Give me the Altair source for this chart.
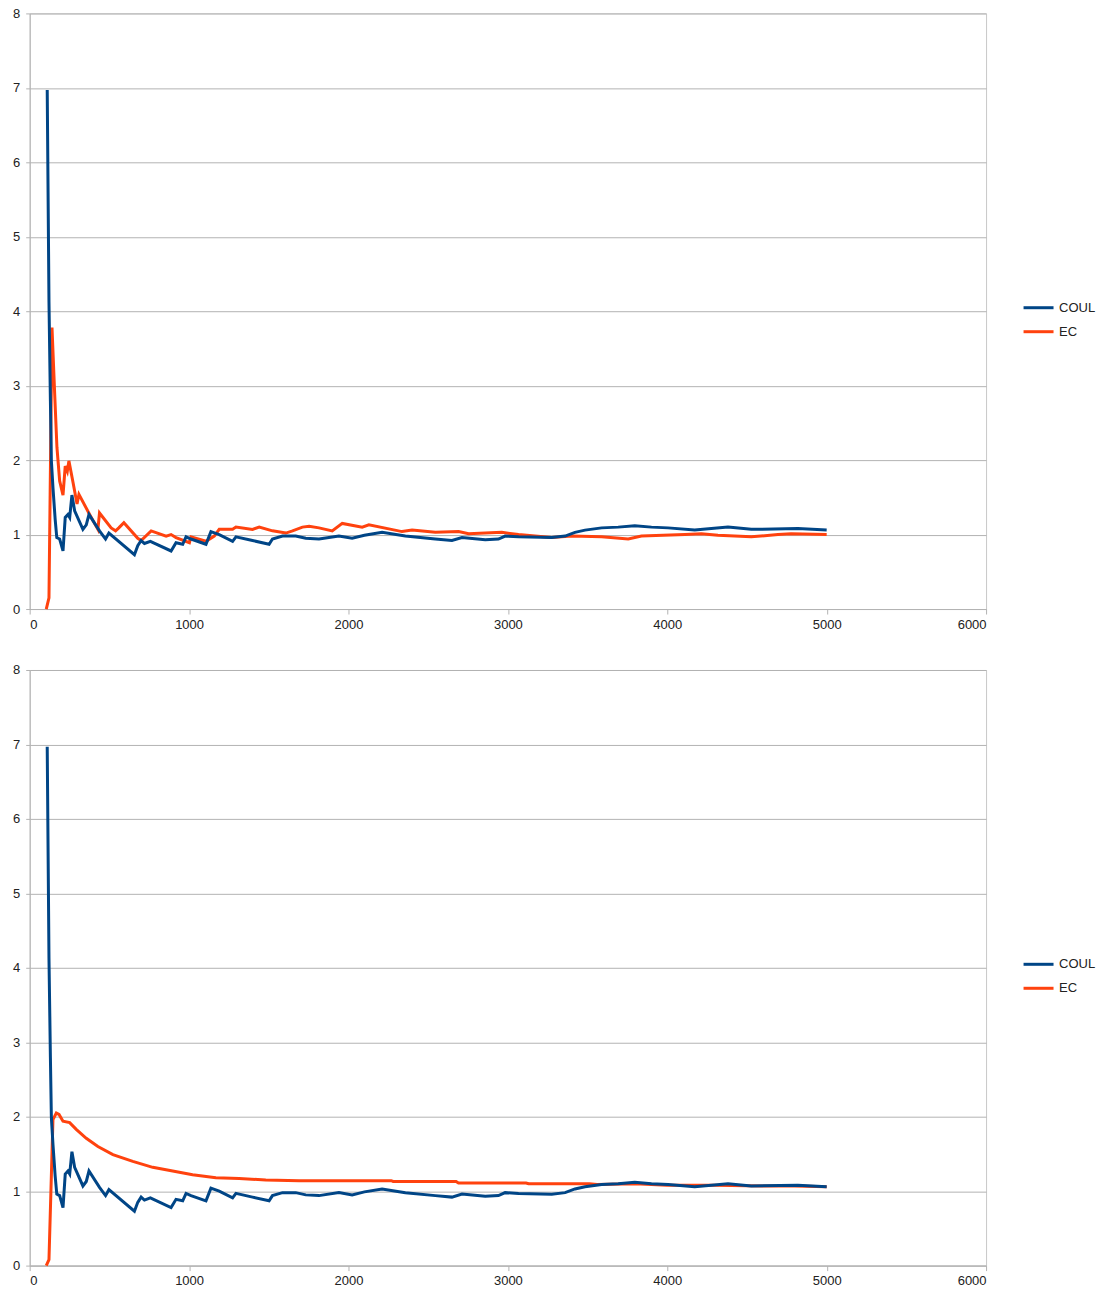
import altair as alt
import pandas as pd

# COUL series (same in both panels)
coul_x = [110, 121, 130, 136, 146, 160, 170, 188, 209, 223, 240, 251, 265, 282, 334, 355, 372,
          438, 476, 497, 657, 678, 699, 720, 757, 887, 918, 960, 981, 1012, 1106, 1137, 1189,
          1273, 1294, 1398, 1502, 1523, 1586, 1669, 1732, 1815, 1940, 2023, 2100, 2211, 2357,
          2545, 2649, 2712, 2858, 2941, 2983, 3067, 3275, 3359, 3421, 3484, 3588, 3692, 3796,
          3901, 4005, 4172, 4381, 4527, 4819, 5000]
coul_y = [6.97, 4.13, 2.79, 1.99, 1.63, 1.2, 0.96, 0.94, 0.78, 1.23, 1.27, 1.23, 1.53, 1.32,
          1.07, 1.13, 1.27, 1.05, 0.94, 1.02, 0.73, 0.85, 0.92, 0.88, 0.91, 0.78, 0.89, 0.87,
          0.97, 0.94, 0.87, 1.04, 1.0, 0.91, 0.97, 0.92, 0.87, 0.94, 0.98, 0.98, 0.95, 0.94,
          0.98, 0.95, 0.99, 1.03, 0.98, 0.94, 0.92, 0.96, 0.93, 0.94, 0.98, 0.97, 0.96, 0.98,
          1.03, 1.06, 1.09, 1.10, 1.12, 1.10, 1.09, 1.06, 1.10, 1.07, 1.08, 1.06]

# EC series, top panel
ec1_x = [104, 121, 140, 157, 171, 188, 209, 223, 236, 246, 272, 297, 309, 376, 428, 438, 511,
         539, 559, 591, 678, 699, 762, 856, 887, 918, 1002, 1012, 1106, 1158, 1189, 1273, 1294,
         1398, 1440, 1523, 1607, 1649, 1711, 1753, 1815, 1898, 1961, 2086, 2128, 2336, 2399,
         2545, 2691, 2754, 2962, 3067, 3275, 3400, 3588, 3755, 3838, 4110, 4214, 4318, 4527,
         4694, 4777, 5000]
ec1_y = [0, 0.15, 3.78, 2.88, 2.17, 1.72, 1.53, 1.92, 1.85, 1.99, 1.70, 1.41, 1.54, 1.27, 1.07,
         1.29, 1.09, 1.05, 1.09, 1.16, 0.95, 0.92, 1.05, 0.98, 1.0, 0.96, 0.89, 0.97, 0.91, 0.98,
         1.07, 1.07, 1.1, 1.07, 1.1, 1.05, 1.02, 1.05, 1.1, 1.11, 1.09, 1.05, 1.15, 1.10, 1.13,
         1.04, 1.06, 1.03, 1.04, 1.01, 1.03, 1.00, 0.96, 0.98, 0.97, 0.94, 0.98, 1.00, 1.01,
         0.99, 0.97, 1.00, 1.01, 1.00]

# EC series, bottom panel
ec2_x = [104, 121, 146, 167, 184, 209, 251, 292, 355, 428, 522, 647, 772, 897, 1022, 1168,
         1314, 1481, 1690, 1940, 2268, 2280, 2675, 2690, 3114, 3130, 3511, 3560, 3800, 4000,
         4300, 4600, 4800, 5000]
ec2_y = [0, 0.08, 1.96, 2.05, 2.03, 1.94, 1.92, 1.83, 1.71, 1.60, 1.49, 1.40, 1.32, 1.27,
         1.22, 1.18, 1.17, 1.15, 1.14, 1.14, 1.14, 1.13, 1.13, 1.11, 1.11, 1.10, 1.10, 1.09,
         1.10, 1.08, 1.08, 1.07, 1.07, 1.06]

series_names = ["COUL", "EC"]
series_colors = ["#004586", "#ff420e"]
x_ticks = [0, 1000, 2000, 3000, 4000, 5000, 6000]
y_ticks = [0, 1, 2, 3, 4, 5, 6, 7, 8]

GRID = "#b3b3b3"
FONT = "Liberation Sans"


def frame(xs, ys, name):
    return pd.DataFrame({"x": xs, "y": ys, "series": name})


def panel(ec_x, ec_y):
    df_ec = frame(ec_x, ec_y, "EC")
    df_coul = frame(coul_x, coul_y, "COUL")
    xenc = alt.X("x:Q", scale=alt.Scale(domain=[0, 6000], nice=False),
                 axis=alt.Axis(values=x_ticks, grid=False, title=None, format="d",
                               tickSize=5, labelPadding=4))
    yenc = alt.Y("y:Q", scale=alt.Scale(domain=[0, 8], nice=False),
                 axis=alt.Axis(values=y_ticks, grid=True, title=None, format="d",
                               tickSize=4, labelPadding=6))
    color = alt.Color("series:N",
                      scale=alt.Scale(domain=series_names, range=series_colors),
                      legend=alt.Legend(title=None, orient="none", legendX=993, legendY=278,
                                        symbolType="stroke", symbolSize=900,
                                        symbolStrokeWidth=3, rowPadding=-4, padding=0,
                                        labelFontSize=13, labelFont=FONT,
                                        labelColor="#222222", labelOffset=4))
    ec_line = alt.Chart(df_ec).mark_line(strokeWidth=3).encode(
        x=xenc, y=yenc, color=color, order="x:Q")
    coul_line = alt.Chart(df_coul).mark_line(strokeWidth=3).encode(
        x=xenc, y=yenc, color=color, order="x:Q")
    return alt.layer(ec_line, coul_line).properties(width=957, height=596)


top = panel(ec1_x, ec1_y)
bottom = panel(ec2_x, ec2_y)

chart = alt.vconcat(top, bottom, spacing=31).resolve_scale(
    color="independent").resolve_legend(color="independent").properties(
    padding={"left": 3.7, "top": -2, "right": 0, "bottom": 0}
).configure_view(stroke="#c8c8c8", strokeWidth=1).configure_axis(
    domainColor=GRID, tickColor=GRID, gridColor=GRID, labelFont=FONT,
    labelFontSize=13, labelColor="#222222"
)

chart.save("out.html", embed_options={"renderer": "svg", "actions": False})
